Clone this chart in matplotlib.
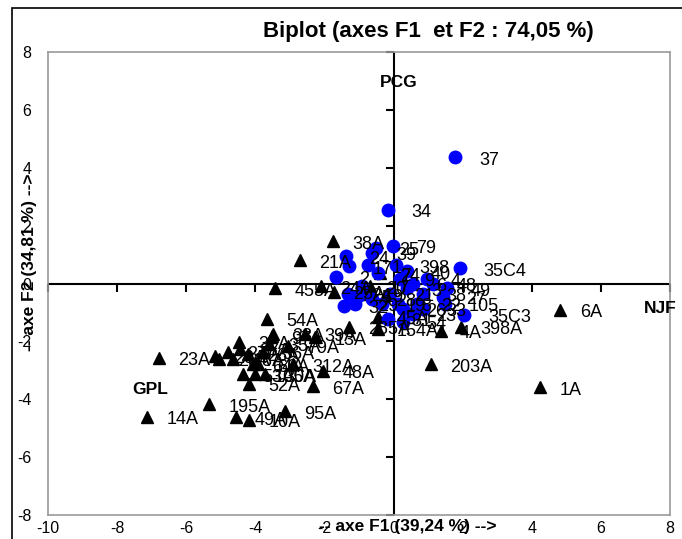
import numpy as np
import matplotlib
matplotlib.use("Agg")
import matplotlib.pyplot as plt
from matplotlib.patches import Rectangle

plt.rcParams['font.family'] = ['Liberation Sans', 'DejaVu Sans']
plt.rcParams['axes.unicode_minus'] = False

# observations, group 1 (blue circles)
blue_x = [1.79, -0.17, -0.03, -0.52, -1.39, -1.30, -1.68, 1.91, 2.05, 1.50,
          1.42, 0.84, 0.20, 0.40, 0.69, 0.55, 0.26, -0.32, -0.61, -1.13,
          -1.42, -1.33, -0.17, 0.26, -0.46, -0.75, 0.06, 0.40, 1.13, 0.98,
          1.56, -0.90, -0.09, -0.61, -1.04, 0.55, 0.84, 0.12]
blue_y = [4.36, 2.54, 1.29, 1.22, 0.94, 0.59, 0.24, 0.52, -1.08, -0.70,
          -0.45, -0.35, 0.17, -0.17, -0.70, -1.05, -0.87, -0.70, -0.52, -0.70,
          -0.77, -0.35, -1.22, -1.32, 0.35, 0.63, 0.63, 0.42, 0.00, 0.17,
          -0.17, -0.10, -0.35, 1.05, -0.42, 0.00, -0.87, -0.70]
blue_lab = ['37', '34', '79', '25', '24', '17', '2', '35C4', '35C3', '105',
            '27', '38', '9', '3', '22', '23', '26', '19', '28', '29',
            '32', '24', '31', '54', '7', '1', '398', '40', '48', '4',
            '49', '20', '21', '39', '5', '6', '33', '8']

# observations, group 2 (black triangles)
tri_x = [-1.76, -2.72, -3.44, -2.11, -1.73, -0.84, -0.38, -0.69, -3.67, -3.50,
         -2.57, -1.30, -3.61, -3.06, -3.79, -2.92, -2.05, -2.34, -3.15, -4.57,
         -4.19, -5.35, -7.14, -6.79, -4.45, -4.22, -4.65, -4.08, -4.36, -4.19,
         -3.73, -3.93, -4.80, -5.06, -5.17, -4.48, -0.46, -0.46, 1.94, 1.36,
         1.07, 4.25, 4.83, -3.53, -2.27, -4.02]
tri_y = [1.46, 0.80, -0.17, -0.10, -0.28, -0.38, 0.35, -0.10, -1.22, -1.74,
         -1.74, -1.50, -2.09, -2.16, -2.37, -2.79, -3.03, -3.55, -4.42, -4.63,
         -4.70, -4.18, -4.60, -2.58, -2.26, -2.44, -2.61, -2.79, -3.14, -3.48,
         -3.14, -2.79, -2.37, -2.61, -2.51, -2.02, -1.15, -1.57, -1.50, -1.64,
         -2.79, -3.59, -0.91, -1.83, -1.86, -3.14]
tri_lab = ['38A', '21A', '455A', '24A', '25A', '19', '24', '17', '54A', '33A',
           '39A', '285A', '35A', '79A', '36A', '312A', '48A', '67A', '95A', '49A',
           '10A', '195A', '14A', '23A', '37A', '26A', '18A', '64A', '53A', '52A',
           '30A', '66A', '27A', '28A', '29A', '32A', '45A', '154A', '398A', '4A',
           '203A', '1A', '6A', '97A', '13A', '105A']

# variables
var_lab = ['PCG', 'GPL', 'NJF']
var_x = [-0.4, -7.55, 7.25]
var_y = [6.95, -3.66, -0.87]

ticks = np.arange(-10, 9, 2)
yticks = np.arange(-8, 9, 2)

fig = plt.figure(figsize=(6.82, 5.39), dpi=100)
ax = fig.add_axes([48 / 682, 1 - 515 / 539, 622 / 682, 463 / 539])
ax.set_xlim(-10, 8)
ax.set_ylim(-8, 8)
for s in ax.spines.values():
    s.set_color('#999999')
    s.set_linewidth(1.2)

ax.set_xticks(ticks)
ax.set_yticks(yticks)
ax.tick_params(length=0, labelsize=11.5)
ax.tick_params(axis='x', pad=4)
ax.tick_params(axis='y', pad=12)

# origin axes with their own tick marks
ax.axhline(0, color='black', lw=1.5, zorder=1)
ax.axvline(0, color='black', lw=1.5, zorder=1)
ax.plot(ticks, np.zeros(len(ticks)), ls='none', marker=3, ms=6, mew=1.5, color='black', clip_on=False)
ax.plot(np.zeros(len(yticks)), yticks, ls='none', marker=0, ms=6, mew=1.5, color='black', clip_on=False)

ax.plot(tri_x, tri_y, ls='none', marker='^', ms=9, color='black', zorder=3)
ax.plot(blue_x, blue_y, ls='none', marker='o', ms=9, color='#0000ff', zorder=3)

for x, y, t in zip(tri_x, tri_y, tri_lab):
    ax.annotate(t, (x, y), xytext=(14, -2), textcoords='offset points',
                fontsize=13, va='center', ha='left', zorder=4)
for x, y, t in zip(blue_x, blue_y, blue_lab):
    ax.annotate(t, (x, y), xytext=(17, -2), textcoords='offset points',
                fontsize=13, va='center', ha='left', zorder=4)
for x, y, t in zip(var_x, var_y, var_lab):
    ax.text(x, y, t, fontsize=12.5, fontweight='bold', va='center', ha='left',
            clip_on=False)

fig.text(428 / 682, 1 - 32 / 539, 'Biplot (axes F1  et F2 : 74,05 %)',
         fontsize=16, fontweight='bold', ha='center', va='center')
fig.text(408 / 682, 1 - 527 / 539, '-- axe F1 (39,24 %) -->',
         fontsize=12.5, fontweight='bold', ha='center', va='center')
fig.text(30 / 682, 1 - 262 / 539, '-- axe F2 (34,81 %) -->',
         fontsize=12.5, fontweight='bold', ha='center', va='center', rotation=90)

# outer chart border
fig.patches.append(Rectangle((12 / 682, -0.1), 1.2, 1 - 8 / 539 + 0.1,
                             transform=fig.transFigure, fill=False,
                             edgecolor='black', lw=1.2))

fig.savefig('out.png', dpi=100)
